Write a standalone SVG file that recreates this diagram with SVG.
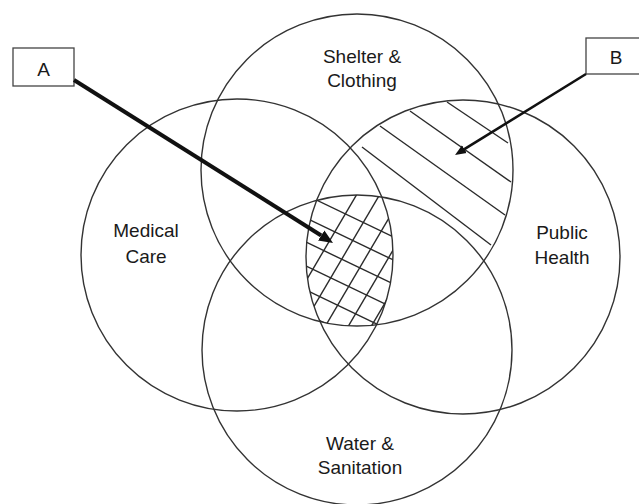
<svg xmlns="http://www.w3.org/2000/svg" width="639" height="504" viewBox="0 0 639 504">
  <style>
    .ring { fill: none; stroke: #333; stroke-width: 1.4; }
    .hatch { stroke: #2a2a2a; stroke-width: 1.4; fill: none; }
    .lbl { font-family: "Liberation Sans", Arial, sans-serif; font-size: 19px; fill: #1a1a1a; text-anchor: middle; }
    .box { fill: #fff; stroke: #444; stroke-width: 1.3; }
    .arrow { stroke: #111; fill: none; }
  </style>
  <defs>
    <clipPath id="cL"><circle cx="237" cy="255" r="156"/></clipPath>
    <clipPath id="cR"><circle cx="463" cy="257" r="157"/></clipPath>
    <clipPath id="cT"><circle cx="357" cy="170" r="156"/></clipPath>
    <clipPath id="cB"><circle cx="357" cy="350" r="155"/></clipPath>
    <marker id="headA" markerUnits="userSpaceOnUse" markerWidth="15" markerHeight="13" viewBox="0 -6.5 15 13" refX="0" refY="0" orient="auto">
      <path d="M0,-6 L14,0 L0,6 Z" fill="#111"/>
    </marker>
    <marker id="headB" markerUnits="userSpaceOnUse" markerWidth="12" markerHeight="10" viewBox="0 -5 12 10" refX="0" refY="0" orient="auto">
      <path d="M0,-4.5 L11,0 L0,4.5 Z" fill="#111"/>
    </marker>
  </defs>

  <g id="medical-care">
    <circle class="ring" cx="237" cy="255" r="156"/>
    <text class="lbl" x="146" y="237">Medical</text>
    <text class="lbl" x="146" y="263">Care</text>
  </g>
  <g id="shelter-clothing">
    <circle class="ring" cx="357" cy="170" r="156"/>
    <text class="lbl" x="362" y="63">Shelter &amp;</text>
    <text class="lbl" x="362" y="87">Clothing</text>
  </g>
  <g id="public-health">
    <circle class="ring" cx="463" cy="257" r="157"/>
    <text class="lbl" x="562" y="239">Public</text>
    <text class="lbl" x="562" y="264">Health</text>
  </g>
  <g id="water-sanitation">
    <circle class="ring" cx="357" cy="350" r="155"/>
    <text class="lbl" x="360" y="450">Water &amp;</text>
    <text class="lbl" x="360" y="474">Sanitation</text>
  </g>

  <g id="region-A-hatch" clip-path="url(#cL)">
    <g clip-path="url(#cR)">
      <g clip-path="url(#cT)">
        <g clip-path="url(#cB)" class="hatch">
          <line x1="290" y1="187.4" x2="410" y2="245"/>
          <line x1="290" y1="210.4" x2="410" y2="268"/>
          <line x1="290" y1="234.4" x2="410" y2="292"/>
          <line x1="290" y1="258.4" x2="410" y2="316"/>
          <line x1="290" y1="282.4" x2="410" y2="340"/>
          <line x1="290" y1="306.4" x2="410" y2="364"/>
          <line x1="359.4" y1="190" x2="271.2" y2="340"/>
          <line x1="382.4" y1="190" x2="294.2" y2="340"/>
          <line x1="405.4" y1="190" x2="317.2" y2="340"/>
          <line x1="428.4" y1="190" x2="340.2" y2="340"/>
          <line x1="451.4" y1="190" x2="363.2" y2="340"/>
          <line x1="474.4" y1="190" x2="386.2" y2="340"/>
        </g>
      </g>
    </g>
  </g>

  <g id="region-B-hatch" class="hatch">
    <line x1="447" y1="102" x2="508" y2="143"/>
    <line x1="410" y1="111" x2="511" y2="182"/>
    <line x1="380" y1="126" x2="505" y2="215"/>
    <line x1="362" y1="147" x2="491" y2="245"/>
  </g>

  <g id="box-A">
    <rect class="box" x="13" y="48" width="61" height="38"/>
    <text class="lbl" x="43.5" y="76">A</text>
  </g>
  <g id="box-B">
    <rect class="box" x="586" y="38" width="61" height="36"/>
    <text class="lbl" x="616" y="64">B</text>
  </g>

  <g id="connectors">
    <line class="arrow" stroke-width="4" x1="74" y1="80" x2="321.2" y2="235.5" marker-end="url(#headA)"/>
    <line class="arrow" stroke-width="2.6" x1="586" y1="74" x2="464.4" y2="149.2" marker-end="url(#headB)"/>
  </g>
</svg>
